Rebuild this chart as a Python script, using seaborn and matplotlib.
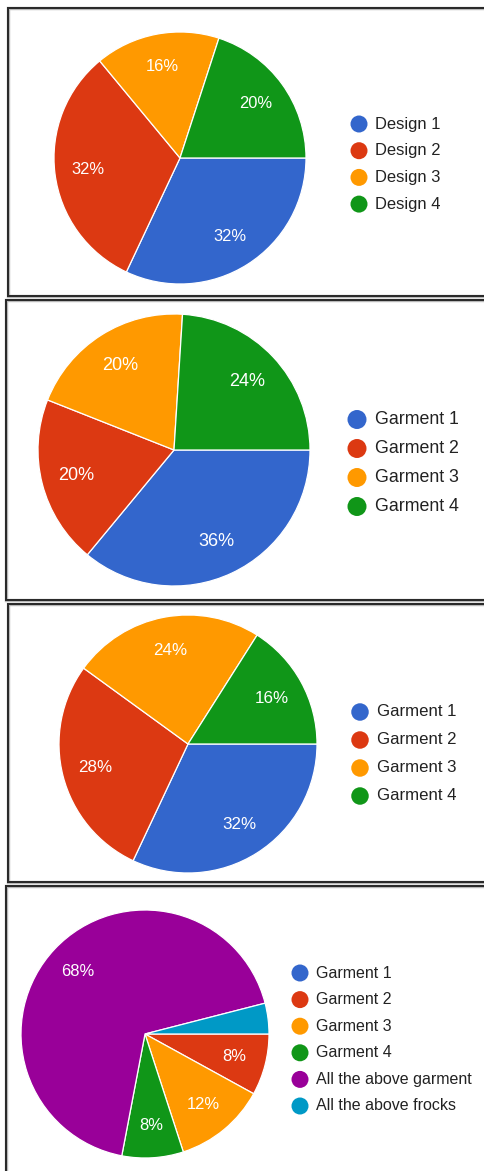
import matplotlib
matplotlib.use("Agg")
import matplotlib.pyplot as plt
import seaborn as sns

# ---- data ----
design_labels = ["Design 1", "Design 2", "Design 3", "Design 4"]
design_pct = [32, 32, 16, 20]

garment_labels = ["Garment 1", "Garment 2", "Garment 3", "Garment 4"]
garment_pct_a = [36, 20, 20, 24]
garment_pct_b = [32, 28, 24, 16]

choice_labels = ["Garment 1", "Garment 2", "Garment 3", "Garment 4",
                 "All the above garment", "All the above frocks"]
choice_pct = [0, 8, 12, 8, 68, 4]

# Google-chart style colours
slice_colors = sns.color_palette(["#3366CC", "#DC3912", "#FF9900", "#109618",
                                  "#990099", "#0099C6"])

sns.set_theme(style="white")
plt.rcParams["font.family"] = ["Liberation Sans", "DejaVu Sans"]

W, H = 485, 1171
DPI = 100
fig = plt.figure(figsize=(W / DPI, H / DPI), dpi=DPI)
fig.patch.set_facecolor("white")

# full-figure overlay in pixel coordinates for frames and legends
overlay = fig.add_axes([0, 0, 1, 1], zorder=0)
overlay.set_xlim(0, W)
overlay.set_ylim(H, 0)
overlay.axis("off")

PT = 72 / DPI  # points per pixel

panels = [
    dict(values=design_pct, labels=design_labels, cx=180, cy=158, r=126,
         pct_px=16.5, lx=359, ly=124, step=26.7, leg_px=16.5, mk=17,
         frame=(8.5, 8, 296)),
    dict(values=garment_pct_a, labels=garment_labels, cx=174, cy=450, r=136,
         pct_px=18, lx=357, ly=419.5, step=29, leg_px=17.8, mk=19,
         frame=(6.5, 300, 600)),
    dict(values=garment_pct_b, labels=garment_labels, cx=188, cy=744, r=129,
         pct_px=17, lx=360, ly=712, step=28, leg_px=16.8, mk=17.5,
         frame=(8.5, 604, 882)),
    dict(values=choice_pct, labels=choice_labels, cx=145, cy=1034, r=124,
         pct_px=16.5, lx=300, ly=973, step=26.6, leg_px=16.0, mk=17,
         frame=(6.5, 886, H + 10)),
]

for p in panels:
    # frame: left, top and bottom edges; right edge runs past the figure
    x0, top, bottom = p["frame"]
    xs = [W + 10, x0, x0, W + 10]
    ys = [top, top, bottom, bottom]
    overlay.plot(xs, ys, color="#b8b8b8", lw=3.4 * PT, solid_joinstyle="miter",
                 zorder=1)
    overlay.plot(xs, ys, color="#2a2a2a", lw=2.0 * PT, solid_joinstyle="miter",
                 zorder=2)

    # pie axes positioned so the pie fills exactly its circle
    cx, cy, r = p["cx"], p["cy"], p["r"]
    ax = fig.add_axes([(cx - r) / W, 1 - (cy + r) / H, 2 * r / W, 2 * r / H], zorder=1)
    n = len(p["values"])
    wedges, _, autotexts = ax.pie(
        p["values"],
        colors=slice_colors[:n],
        startangle=0,
        counterclock=False,
        autopct=lambda v: f"{v:.0f}%" if v >= 5 else "",
        pctdistance=0.74,
        wedgeprops=dict(edgecolor="white", linewidth=0.9),
        textprops=dict(color="white", fontsize=p["pct_px"] * PT),
    )
    ax.set_xlim(-1.0, 1.0)
    ax.set_ylim(-1.0, 1.0)
    ax.set_aspect("auto")
    ax.axis("off")

    # legend: coloured dots with labels
    for i, lab in enumerate(p["labels"]):
        y = p["ly"] + i * p["step"]
        overlay.scatter([p["lx"]], [y], s=(p["mk"] * PT) ** 2, color=slice_colors[i],
                        edgecolors="none", zorder=3)
        overlay.text(p["lx"] + p["mk"] * 0.95, y, lab, fontsize=p["leg_px"] * PT,
                     color="#222222", va="center", ha="left", zorder=3)

fig.savefig("out.png", dpi=DPI, facecolor="white")
